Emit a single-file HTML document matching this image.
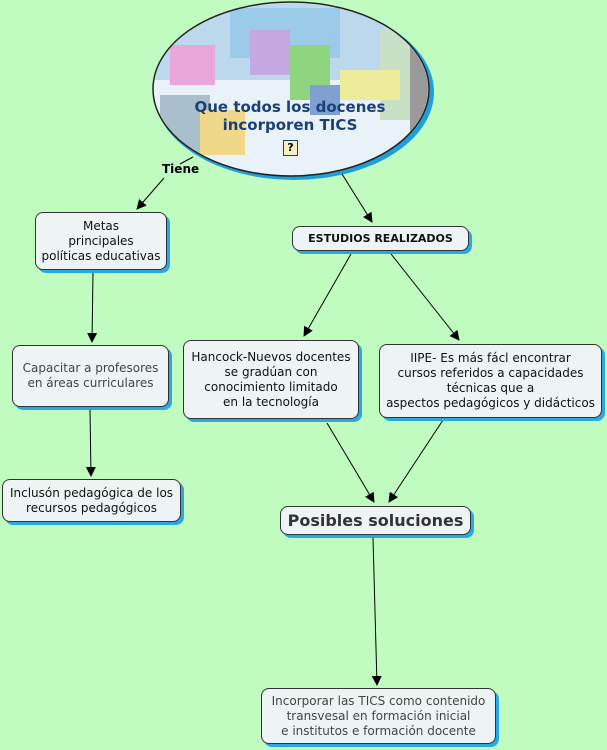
<!DOCTYPE html>
<html><head><meta charset="utf-8"><style>
body{margin:0;width:607px;height:750px;background:#c0fcc0;position:relative;overflow:hidden;font-family:"DejaVu Sans","Liberation Sans",sans-serif;}
.b{position:absolute;box-sizing:border-box;background:#eef4f6;border:1px solid #333;border-radius:8px;box-shadow:3px 3px 0 #2aa8e0;display:flex;align-items:center;justify-content:center;text-align:center;font-size:12px;line-height:15px;color:#111;}
.g{color:#444;}
svg{position:absolute;left:0;top:0;}
</style></head><body>
<svg width="607" height="750">
<defs><marker id="a" markerWidth="10" markerHeight="10" refX="9" refY="5" orient="auto" markerUnits="userSpaceOnUse"><path d="M0,0L10,5L0,10z" fill="#000"/></marker>
<clipPath id="c"><ellipse cx="291" cy="89" rx="137" ry="86"/></clipPath></defs>
<ellipse cx="294" cy="92" rx="140" ry="88" fill="#1e9fd8"/>
<ellipse cx="291" cy="89" rx="138" ry="87" fill="#e8f2f8"/>
<g clip-path="url(#c)">
<rect x="150" y="0" width="290" height="80" fill="#bcd8ec"/>
<rect x="230" y="8" width="110" height="50" fill="#9ccbea"/>
<rect x="380" y="30" width="40" height="90" fill="#c9e0c6"/>
<rect x="410" y="20" width="30" height="150" fill="#9a9a9a"/>
<rect x="170" y="45" width="45" height="40" fill="#e9a6d8"/>
<rect x="250" y="30" width="40" height="45" fill="#c3a8e2"/>
<rect x="290" y="45" width="40" height="55" fill="#8fd47e"/>
<rect x="160" y="95" width="50" height="60" fill="#a9bfcc"/>
<rect x="200" y="110" width="45" height="45" fill="#efd88a"/>
<rect x="340" y="70" width="60" height="30" fill="#ecec9a"/>
<rect x="310" y="85" width="30" height="30" fill="#7fa0d0"/>
</g>
<ellipse cx="291" cy="89" rx="138" ry="87" fill="none" stroke="#222" stroke-width="1.5"/>
<g stroke="#000" stroke-width="1" fill="none">
<line x1="193" y1="157" x2="180" y2="164"/>
<line x1="164" y1="178" x2="137" y2="209" marker-end="url(#a)"/>
<line x1="342" y1="174" x2="372" y2="222" marker-end="url(#a)"/>
<line x1="93" y1="272" x2="92" y2="342" marker-end="url(#a)"/>
<line x1="351" y1="254" x2="304" y2="336" marker-end="url(#a)"/>
<line x1="391" y1="254" x2="459" y2="340" marker-end="url(#a)"/>
<line x1="90" y1="410" x2="91" y2="476" marker-end="url(#a)"/>
<line x1="327" y1="423" x2="374" y2="502" marker-end="url(#a)"/>
<line x1="443" y1="420" x2="389" y2="502" marker-end="url(#a)"/>
<line x1="373" y1="538" x2="377" y2="685" marker-end="url(#a)"/>
</g>
</svg>
<div style="position:absolute;left:150px;top:98px;width:280px;text-align:center;font-weight:bold;font-size:15px;line-height:18px;color:#1a3f7a;">Que todos los docenes<br>incorporen TICS</div>
<div style="position:absolute;left:283px;top:140px;width:13px;height:14px;border:1px solid #1a3f7a;background:#f4f0c0;font-size:11px;line-height:14px;text-align:center;font-weight:bold;">?</div>
<div style="position:absolute;left:162px;top:162px;font-size:12px;font-weight:bold;">Tiene</div>
<div class="b" style="left:35px;top:212px;width:132px;height:58px;">Metas<br>principales<br>políticas educativas</div>
<div class="b" style="left:292px;top:226px;width:177px;height:25px;font-weight:bold;font-size:11px;">ESTUDIOS REALIZADOS</div>
<div class="b g" style="left:12px;top:345px;width:157px;height:62px;">Capacitar a profesores<br>en áreas curriculares</div>
<div class="b" style="left:183px;top:340px;width:176px;height:79px;">Hancock-Nuevos docentes<br>se gradúan con<br>conocimiento limitado<br>en la tecnología</div>
<div class="b" style="left:379px;top:344px;width:223px;height:74px;">IIPE- Es más fácl encontrar<br>cursos referidos a capacidades<br>técnicas que a<br>aspectos pedagógicos y didácticos</div>
<div class="b" style="left:2px;top:479px;width:179px;height:43px;">Inclusón pedagógica de los<br>recursos pedagógicos</div>
<div class="b" style="left:280px;top:506px;width:191px;height:29px;font-weight:bold;font-size:16px;color:#333;">Posibles soluciones</div>
<div class="b g" style="left:261px;top:688px;width:235px;height:56px;">Incorporar las TICS como contenido<br>transvesal en formación inicial<br>e institutos e formación docente</div>
</body></html>
